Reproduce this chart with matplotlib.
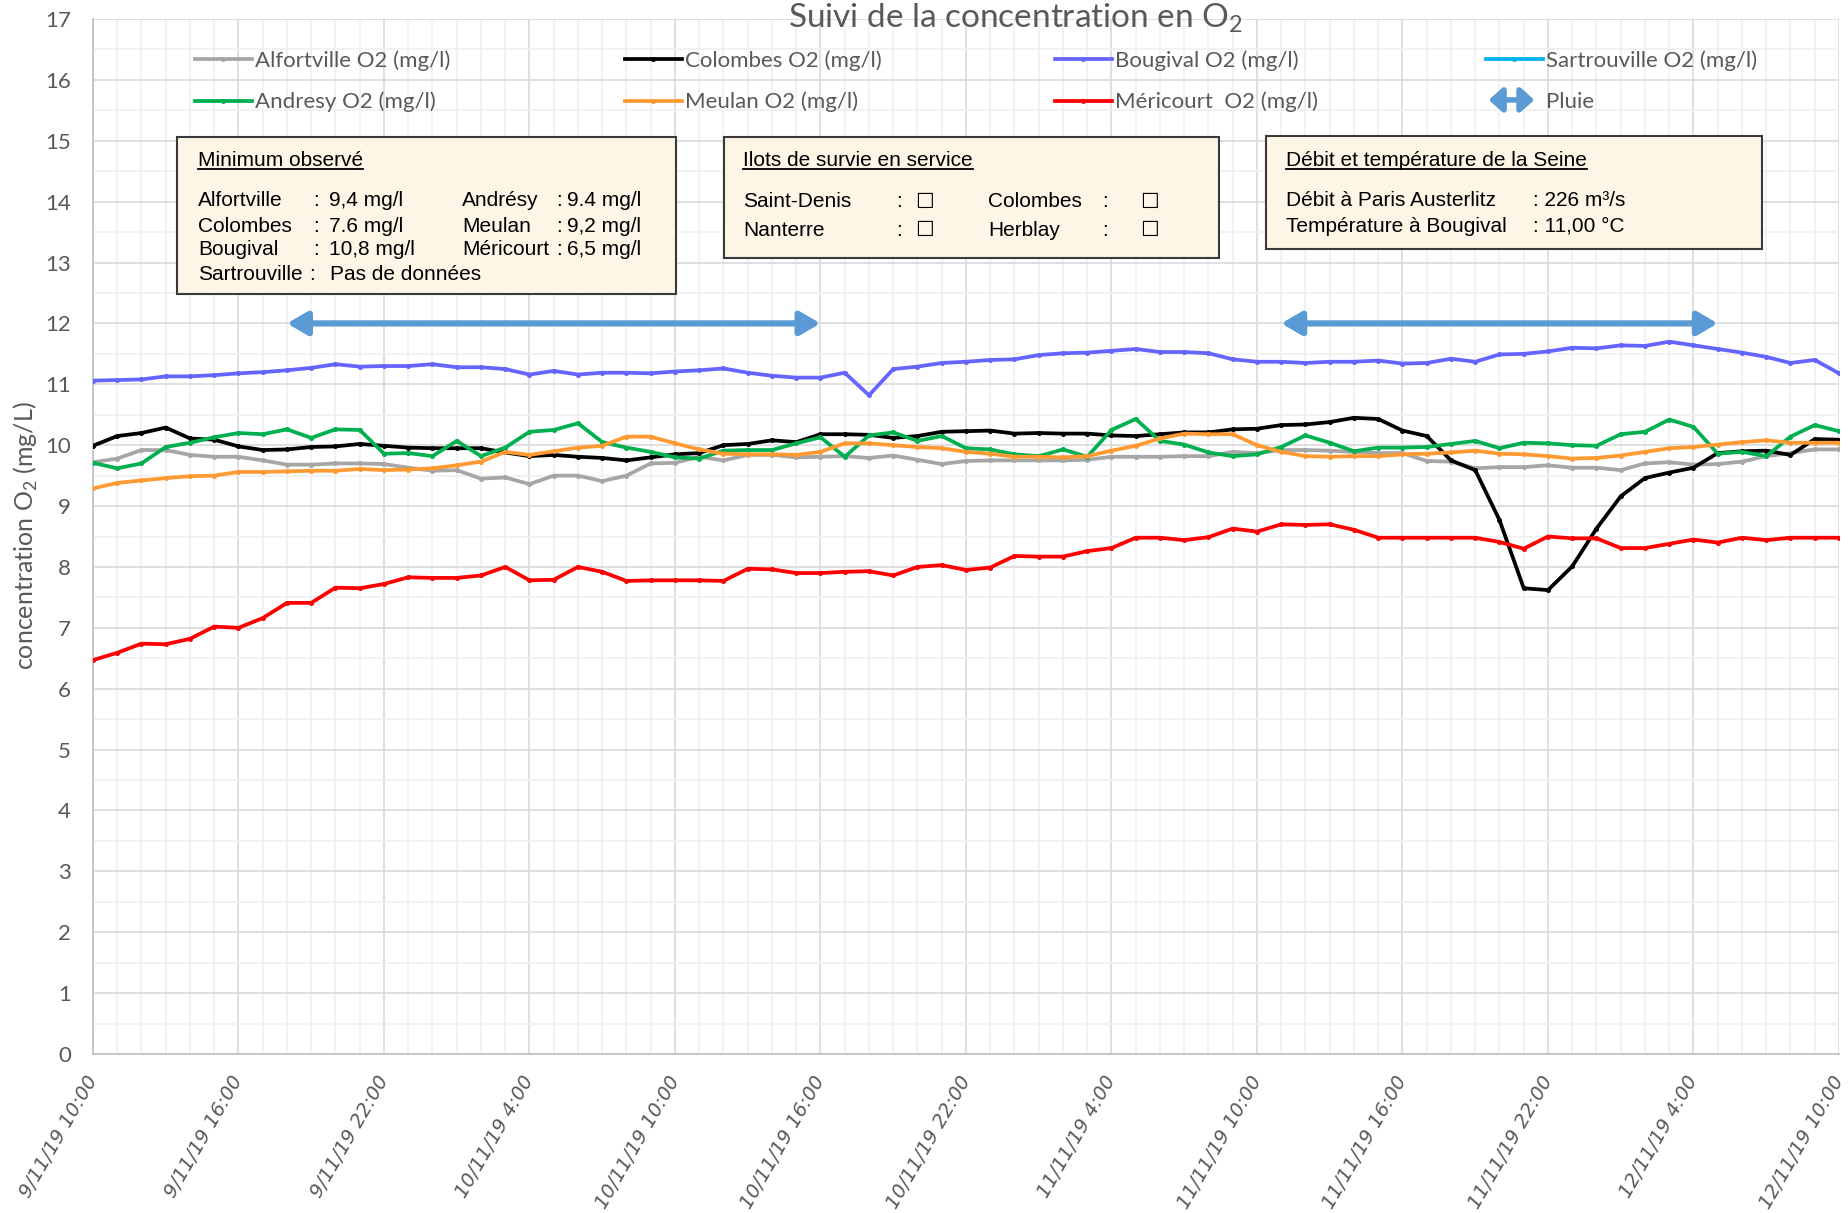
import matplotlib
matplotlib.use('Agg')
import matplotlib.pyplot as plt
import matplotlib.patches as mpatches
from matplotlib.lines import Line2D
from matplotlib.legend_handler import HandlerPatch
from matplotlib.ticker import MultipleLocator

# heures depuis le 9/11/19 10:00 (pas horaire)
heures = list(range(73))
etiquettes_x = ['9/11/19 10:00', '9/11/19 16:00', '9/11/19 22:00', '10/11/19 4:00',
                '10/11/19 10:00', '10/11/19 16:00', '10/11/19 22:00', '11/11/19 4:00',
                '11/11/19 10:00', '11/11/19 16:00', '11/11/19 22:00', '12/11/19 4:00',
                '12/11/19 10:00']

alfortville = [9.72, 9.78, 9.92, 9.92, 9.84, 9.81, 9.81, 9.75, 9.68, 9.68, 9.70, 9.70,
               9.69, 9.63, 9.58, 9.59, 9.45, 9.47, 9.36, 9.50, 9.50, 9.41, 9.50, 9.70,
               9.71, 9.81, 9.75, 9.84, 9.84, 9.80, 9.81, 9.82, 9.79, 9.83, 9.76, 9.69,
               9.74, 9.75, 9.75, 9.75, 9.75, 9.76, 9.81, 9.81, 9.81, 9.82, 9.82, 9.89,
               9.87, 9.92, 9.92, 9.91, 9.89, 9.87, 9.87, 9.74, 9.73, 9.62, 9.64, 9.64,
               9.67, 9.63, 9.63, 9.59, 9.70, 9.72, 9.68, 9.69, 9.73, 9.82, 9.87, 9.93,
               9.93]
colombes = [9.99, 10.15, 10.20, 10.29, 10.11, 10.09, 9.98, 9.92, 9.93, 9.97, 9.98, 10.02,
            9.99, 9.96, 9.95, 9.95, 9.95, 9.88, 9.82, 9.84, 9.81, 9.79, 9.75, 9.80,
            9.85, 9.87, 10.00, 10.02, 10.08, 10.05, 10.18, 10.18, 10.17, 10.12, 10.15, 10.22,
            10.23, 10.24, 10.19, 10.20, 10.19, 10.19, 10.16, 10.15, 10.18, 10.21, 10.21, 10.26,
            10.27, 10.33, 10.34, 10.38, 10.45, 10.43, 10.24, 10.15, 9.75, 9.59, 8.77, 7.65,
            7.62, 8.01, 8.63, 9.16, 9.46, 9.55, 9.63, 9.87, 9.90, 9.91, 9.84, 10.10,
            10.09]
bougival = [11.06, 11.07, 11.08, 11.13, 11.13, 11.15, 11.18, 11.20, 11.23, 11.27, 11.33, 11.29,
            11.30, 11.30, 11.33, 11.28, 11.28, 11.25, 11.16, 11.22, 11.16, 11.19, 11.19, 11.18,
            11.21, 11.23, 11.26, 11.19, 11.14, 11.11, 11.11, 11.19, 10.82, 11.25, 11.29, 11.35,
            11.37, 11.40, 11.41, 11.48, 11.51, 11.52, 11.55, 11.58, 11.53, 11.53, 11.51, 11.41,
            11.37, 11.37, 11.35, 11.37, 11.37, 11.39, 11.34, 11.35, 11.42, 11.37, 11.49, 11.50,
            11.54, 11.60, 11.59, 11.64, 11.63, 11.70, 11.64, 11.58, 11.52, 11.45, 11.35, 11.40,
            11.18]
sartrouville = []  # pas de données
andresy = [9.71, 9.62, 9.70, 9.97, 10.04, 10.13, 10.20, 10.18, 10.26, 10.12, 10.26, 10.25,
           9.86, 9.87, 9.82, 10.07, 9.82, 9.96, 10.22, 10.25, 10.36, 10.05, 9.96, 9.89,
           9.80, 9.78, 9.91, 9.92, 9.92, 10.03, 10.13, 9.81, 10.16, 10.21, 10.07, 10.15,
           9.95, 9.93, 9.85, 9.82, 9.93, 9.81, 10.25, 10.43, 10.07, 10.01, 9.88, 9.82,
           9.85, 9.97, 10.16, 10.04, 9.90, 9.96, 9.96, 9.97, 10.02, 10.07, 9.95, 10.04,
           10.03, 10.00, 9.99, 10.18, 10.22, 10.42, 10.30, 9.86, 9.89, 9.82, 10.14, 10.33,
           10.23]
meulan = [9.29, 9.38, 9.42, 9.46, 9.49, 9.50, 9.56, 9.56, 9.57, 9.58, 9.58, 9.61,
          9.59, 9.60, 9.62, 9.67, 9.73, 9.89, 9.84, 9.90, 9.96, 9.99, 10.14, 10.14,
          10.03, 9.93, 9.86, 9.85, 9.85, 9.84, 9.89, 10.03, 10.03, 10.00, 9.97, 9.95,
          9.89, 9.86, 9.81, 9.81, 9.80, 9.82, 9.91, 9.99, 10.11, 10.19, 10.18, 10.18,
          10.00, 9.89, 9.82, 9.81, 9.82, 9.82, 9.85, 9.86, 9.88, 9.91, 9.86, 9.85,
          9.82, 9.78, 9.79, 9.83, 9.89, 9.95, 9.97, 10.01, 10.05, 10.08, 10.04, 10.04,
          10.04]
mericourt = [6.47, 6.59, 6.74, 6.73, 6.82, 7.02, 7.00, 7.16, 7.41, 7.41, 7.66, 7.65,
             7.72, 7.83, 7.82, 7.82, 7.86, 8.00, 7.78, 7.79, 8.00, 7.92, 7.77, 7.78,
             7.78, 7.78, 7.77, 7.97, 7.96, 7.90, 7.90, 7.92, 7.93, 7.86, 8.00, 8.03,
             7.95, 7.99, 8.18, 8.17, 8.17, 8.26, 8.31, 8.48, 8.48, 8.44, 8.49, 8.63,
             8.58, 8.70, 8.69, 8.70, 8.61, 8.48, 8.48, 8.48, 8.48, 8.48, 8.41, 8.30,
             8.50, 8.47, 8.47, 8.31, 8.31, 8.38, 8.45, 8.40, 8.48, 8.44, 8.48, 8.48,
             8.48]

# periodes de pluie (debut, fin) en heures
pluie = [(8, 30), (49, 67)]
niveau_pluie = 12

W, H = 1849, 1213
GRIS = '#595959'
BLEU_PLUIE = '#5B9BD5'


def fx(px):
    return px / W


def fy(py):
    return 1 - py / H


plt.rcParams['mathtext.fontset'] = 'custom'
plt.rcParams['mathtext.rm'] = 'Lato'

fig = plt.figure(figsize=(W / 100, H / 100), dpi=100)
ax = fig.add_axes([fx(93), fy(1054), (1839 - 93) / W, (1054 - 19) / H])

series = [
    (alfortville, 'Alfortville O2 (mg/l)', '#A6A6A6'),
    (colombes, 'Colombes O2 (mg/l)', '#000000'),
    (bougival, 'Bougival O2 (mg/l)', '#6464FF'),
    (sartrouville, 'Sartrouville O2 (mg/l)', '#00B0F0'),
    (andresy, 'Andresy O2 (mg/l)', '#00B050'),
    (meulan, 'Meulan O2 (mg/l)', '#FF9A33'),
    (mericourt, 'Méricourt  O2 (mg/l)', '#FF0000'),
]
lignes = {}
for valeurs, nom, couleur in series:
    l, = ax.plot(heures[:len(valeurs)], valeurs, color=couleur, lw=2.7,
                 marker='o', markersize=2.6, label=nom, zorder=3)
    lignes[nom] = l

for debut, fin in pluie:
    ax.annotate('', xy=(fin, niveau_pluie), xytext=(debut, niveau_pluie),
                arrowprops=dict(arrowstyle='<|-|>,head_length=0.6,head_width=0.35',
                                lw=4.5, color=BLEU_PLUIE, shrinkA=0, shrinkB=0,
                                mutation_scale=20), zorder=4)

ax.set_xlim(0, 72)
ax.set_ylim(0, 17)
ax.xaxis.set_major_locator(MultipleLocator(6))
ax.xaxis.set_minor_locator(MultipleLocator(1))
ax.yaxis.set_major_locator(MultipleLocator(1))
ax.yaxis.set_minor_locator(MultipleLocator(0.5))
ax.grid(which='major', color='#D9D9D9', lw=1.2, zorder=0)
ax.grid(which='minor', color='#F0F0F0', lw=1.2, zorder=0)
ax.set_axisbelow(True)
for s in ['top', 'right']:
    ax.spines[s].set_visible(False)
for s in ['left', 'bottom']:
    ax.spines[s].set_color('#BFBFBF')
    ax.spines[s].set_linewidth(1.2)

ax.set_xticks(range(0, 73, 6))
ax.set_xticklabels(etiquettes_x, rotation=60, ha='right', va='center',
                   rotation_mode='anchor', fontsize=14, color=GRIS,
                   family='DejaVu Sans', style='italic')
ax.tick_params(axis='x', which='both', length=0, pad=17)
ax.tick_params(axis='y', which='both', length=0, pad=16, labelsize=16, labelcolor=GRIS)
for t in ax.get_yticklabels():
    t.set_family('Lato')

fig.text(fx(26), fy(536), 'concentration O$_2$ (mg/L)', rotation=90, ha='center',
         va='center', fontsize=18, color=GRIS, family='Lato')
fig.text(fx(1015), fy(27), 'Suivi de la concentration en O$_2$', ha='center',
         va='baseline', fontsize=24, color=GRIS, family='Lato')


# legende : fleche double pour la pluie
class HandlerFleche(HandlerPatch):
    def create_artists(self, legend, orig_handle, xdescent, ydescent, width, height,
                       fontsize, trans):
        y = height / 2 - ydescent
        p = mpatches.FancyArrowPatch((-xdescent + 2, y), (-xdescent + width - 6, y),
                                     arrowstyle='<|-|>,head_length=0.5,head_width=0.45',
                                     mutation_scale=16, lw=4, color=BLEU_PLUIE,
                                     shrinkA=0, shrinkB=0)
        p.set_transform(trans)
        return [p]


fleche = mpatches.Patch(color=BLEU_PLUIE)
colonnes = [
    [lignes['Alfortville O2 (mg/l)'], lignes['Andresy O2 (mg/l)']],
    [lignes['Colombes O2 (mg/l)'], lignes['Meulan O2 (mg/l)']],
    [lignes['Bougival O2 (mg/l)'], lignes['Méricourt  O2 (mg/l)']],
    [lignes['Sartrouville O2 (mg/l)'], fleche],
]
noms_col = [
    ['Alfortville O2 (mg/l)', 'Andresy O2 (mg/l)'],
    ['Colombes O2 (mg/l)', 'Meulan O2 (mg/l)'],
    ['Bougival O2 (mg/l)', 'Méricourt  O2 (mg/l)'],
    ['Sartrouville O2 (mg/l)', 'Pluie'],
]
x_col = [195, 625, 1055, 1486]
for hs, ls, x in zip(colonnes, noms_col, x_col):
    fig.legend(hs, ls, loc='upper left', bbox_to_anchor=(fx(x), fy(50)),
               frameon=False, ncol=1, numpoints=1, handlelength=2.55,
               handletextpad=0.15, labelspacing=0.95, borderpad=0,
               borderaxespad=0, prop={'family': 'Lato', 'size': 16},
               labelcolor=GRIS, handler_map={fleche: HandlerFleche()})

# encadres
FOND = '#FDF6E6'
BORD = '#3A3A3A'
for x0, y0, x1, y1 in [(177, 137, 676, 294), (724, 137, 1219, 258), (1266, 136, 1762, 249)]:
    fig.patches.append(mpatches.Rectangle((fx(x0), fy(y1)), (x1 - x0) / W, (y1 - y0) / H,
                                          transform=fig.transFigure, fc=FOND, ec=BORD,
                                          lw=1.5, zorder=5))

police = dict(family=['Liberation Sans', 'DejaVu Sans'], fontsize=15, color='black',
              va='center', zorder=6)
titres = [
    fig.text(fx(198), fy(160), 'Minimum observé', **police),
    fig.text(fx(743), fy(160), 'Ilots de survie en service', **police),
    fig.text(fx(1286), fy(160), 'Débit et température de la Seine', **police),
]

minimums = [('Alfortville', '9,4 mg/l', 'Andrésy', '9.4 mg/l'),
            ('Colombes', '7.6 mg/l', 'Meulan', '9,2 mg/l'),
            ('Bougival', '10,8 mg/l', 'Méricourt', '6,5 mg/l')]
y_lignes = [201, 226, 250, 275]
for (n1, v1, n2, v2), y in zip(minimums, y_lignes):
    fig.text(fx(198), fy(y), n1, **police)
    fig.text(fx(313), fy(y), ':', **police)
    fig.text(fx(329), fy(y), v1, **police)
    fig.text(fx(462), fy(y), n2, **police)
    fig.text(fx(556), fy(y), ':', **police)
    fig.text(fx(567), fy(y), v2, **police)
fig.text(fx(198), fy(275), 'Sartrouville', **police)
fig.text(fx(309), fy(275), ':', **police)
fig.text(fx(330), fy(275), 'Pas de données', **police)

ilots = [('Saint-Denis', 'Colombes'), ('Nanterre', 'Herblay')]
for (n1, n2), y in zip(ilots, [202, 230]):
    fig.text(fx(743), fy(y), n1, **police)
    fig.text(fx(896), fy(y), ':', **police)
    fig.text(fx(915), fy(y), '☐', **police)
    fig.text(fx(988), fy(y), n2, **police)
    fig.text(fx(1102), fy(y), ':', **police)
    fig.text(fx(1140), fy(y), '☐', **police)

seine = [('Débit à Paris Austerlitz', ': 226 m³/s'), ('Température à Bougival', ': 11,00 °C')]
for (n, v), y in zip(seine, [200, 226]):
    fig.text(fx(1286), fy(y), n, **police)
    fig.text(fx(1533), fy(y), v, **police)

# soulignement des titres
fig.canvas.draw()
inv = fig.transFigure.inverted()
for t in titres:
    bb = t.get_window_extent()
    (a, b), (c, d) = inv.transform([(bb.x0, bb.y0 + 1), (bb.x1, bb.y0 + 1)])
    fig.add_artist(Line2D([a, c], [b, d], color='black', lw=1.3,
                          transform=fig.transFigure, zorder=6))

fig.savefig('out.png', dpi=100)
